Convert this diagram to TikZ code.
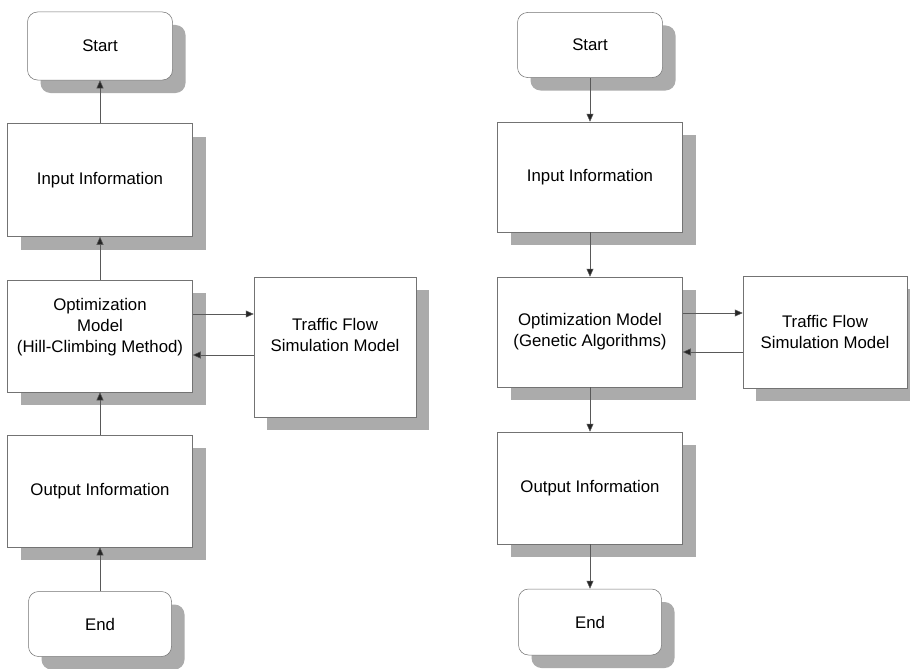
\documentclass[tikz,border=0pt]{standalone}
\usepackage{fontspec}
\setmainfont{Liberation Sans}
\usetikzlibrary{arrows.meta,shadows}
\begin{document}
\begin{tikzpicture}[x=1pt,y=-1pt,
  box/.style={draw=black!55, line width=0.5pt, fill=white, align=center, inner sep=0pt,
    font=\fontsize{16.8}{21}\selectfont,
    drop shadow={shadow xshift=13pt, shadow yshift=-13pt, fill=black!33, opacity=1}},
  term/.style={box, rounded corners=10pt},
  lab/.style={align=center, font=\fontsize{16.8}{21}\selectfont},
  arr/.style={draw=black!65, line width=0.5pt, -{Triangle[length=8pt,width=7pt,fill=black!85]}}]
\useasboundingbox[fill=white] (0,0) rectangle (910,669);

% ---- left chart ----
\node[term, minimum width=145pt, minimum height=68pt] (startL) at (100,46) {Start};
\node[box, minimum width=185pt, minimum height=113pt] (inL) at (100,180) {Input Information};
\node[box, minimum width=185pt, minimum height=112pt,
      label={[lab, yshift=9pt]center:Optimization\\Model\\(Hill-Climbing Method)}] (optL) at (100,336) {};
\node[box, minimum width=162pt, minimum height=140pt,
      label={[lab, yshift=12pt]center:Traffic Flow\\Simulation Model}] (trafL) at (335,347) {};
\node[box, minimum width=185pt, minimum height=112pt] (outL) at (100,491) {Output Information};
\node[term, minimum width=143pt, minimum height=65pt] (endL) at (100,624) {End};

\draw[arr] (inL.north) -- (startL.south);
\draw[arr] (optL.north) -- (inL.south);
\draw[arr] (outL.north) -- (optL.south);
\draw[arr] (endL.north) -- (outL.south);
\path ([yshift=22pt]optL.east) coordinate (aL1);
\path ([yshift=-19pt]optL.east) coordinate (aL2);
\draw[arr] (aL1) -- (aL1 -| trafL.west);
\draw[arr] (aL2 -| trafL.west) -- (aL2);

% ---- right chart ----
\node[term, minimum width=145pt, minimum height=65pt] (startR) at (590,45) {Start};
\node[box, minimum width=185pt, minimum height=110pt] (inR) at (590,177) {Input Information};
\node[box, minimum width=185pt, minimum height=110pt] (optR) at (590,332) {Optimization Model\\(Genetic Algorithms)};
\node[box, minimum width=164pt, minimum height=112pt] (trafR) at (825,332) {Traffic Flow\\Simulation Model};
\node[box, minimum width=185pt, minimum height=112pt] (outR) at (590,488) {Output Information};
\node[term, minimum width=143pt, minimum height=66pt] (endR) at (590,622) {End};

\draw[arr] (startR.south) -- (inR.north);
\draw[arr] (inR.south) -- (optR.north);
\draw[arr] (optR.south) -- (outR.north);
\draw[arr] (outR.south) -- (endR.north);
\path ([yshift=19pt]optR.east) coordinate (aR1);
\path ([yshift=-20pt]optR.east) coordinate (aR2);
\draw[arr] (aR1) -- (aR1 -| trafR.west);
\draw[arr] (aR2 -| trafR.west) -- (aR2);
\end{tikzpicture}
\end{document}
